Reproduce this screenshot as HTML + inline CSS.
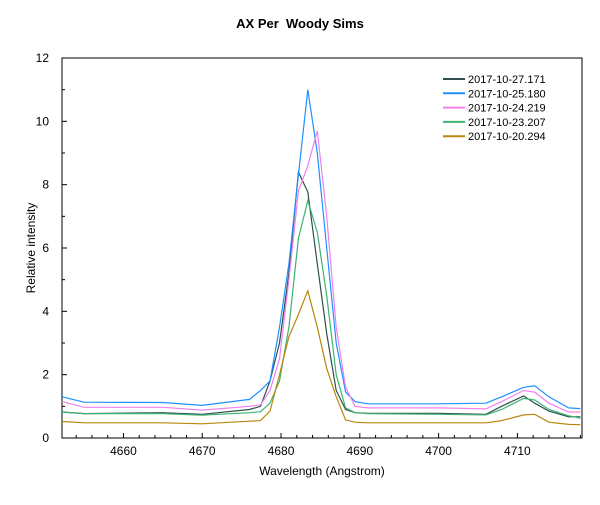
<!DOCTYPE html>
<html><head><meta charset="utf-8"><style>
body{margin:0;background:#fff;font-family:"Liberation Sans",sans-serif}
svg text{font-family:"Liberation Sans",sans-serif}
</style></head><body>
<svg id="chart" width="600" height="500">
<rect width="600" height="500" fill="#fff"/>
<text x="300" y="28" text-anchor="middle" font-size="13" font-weight="bold" xml:space="preserve" style="white-space:pre">AX Per  Woody Sims</text>
<rect x="62" y="58" width="520" height="380" fill="none" stroke="#000"/>
<g id="axes"></g>
<g id="series"></g>
<g id="legend"></g>
<text x="322" y="475" text-anchor="middle" font-size="12">Wavelength (Angstrom)</text>
<text transform="translate(35,248) rotate(-90)" text-anchor="middle" font-size="12">Relative intensity</text>
</svg>
<script>
const wavelengths=[4652.2,4655,4665,4670,4676,4677.4,4678.6,4679.8,4681.0,4682.2,4683.4,4684.6,4685.8,4687.0,4688.2,4689.4,4691,4700,4706,4708,4710.8,4712.2,4714,4716.5,4718];
const seriesNames=["2017-10-27.171","2017-10-25.180","2017-10-24.219","2017-10-23.207","2017-10-20.294"];
const s1=[0.82,0.77,0.8,0.75,0.9,1.0,1.8,3.0,5.2,8.4,7.77,5.5,3.3,1.5,0.9,0.8,0.78,0.78,0.75,1.0,1.33,1.1,0.85,0.67,0.67];
const s2=[1.3,1.13,1.12,1.03,1.22,1.5,1.8,3.5,5.5,8.3,11.0,9.0,6.0,3.0,1.45,1.15,1.08,1.08,1.1,1.3,1.6,1.65,1.3,0.95,0.93];
const s3=[1.15,0.97,0.97,0.88,1.0,1.05,1.5,2.5,5.0,7.8,8.6,9.7,7.0,3.5,1.6,1.0,0.95,0.95,0.92,1.15,1.5,1.45,1.1,0.82,0.82];
const s4=[0.82,0.77,0.77,0.72,0.8,0.83,1.1,1.8,3.5,6.3,7.5,6.5,4.5,2.0,0.95,0.8,0.77,0.75,0.73,0.9,1.25,1.2,0.9,0.7,0.63];
const s5=[0.52,0.48,0.48,0.45,0.53,0.55,0.85,2.0,3.2,3.9,4.65,3.5,2.2,1.3,0.57,0.5,0.48,0.48,0.48,0.55,0.73,0.75,0.5,0.43,0.42];
const xTicks=[4660,4670,4680,4690,4700,4710];
const yTicks=[0,2,4,6,8,10,12];
const colors=["#2f4f4f","#1e90ff","#ee82ee","#3cb371","#b8860b"];
const X0=4652.2,X1=4718.2,Y0=0,Y1=12;
const L=62,R=582,T=58,B=438;
const xs=v=>L+(v-X0)/(X1-X0)*(R-L);
const ys=v=>B-(v-Y0)/(Y1-Y0)*(B-T);
const NS="http://www.w3.org/2000/svg";
function mk(t,a,p){const e=document.createElementNS(NS,t);for(const k in a)e.setAttribute(k,a[k]);p.appendChild(e);return e;}
const ax=document.getElementById('axes');
for(let v=4654;v<=4718;v+=2){const x=xs(v);const major=v%10===0;
const t=mk('line',{x1:x,x2:x,y1:B,y2:B-(major?5:3),stroke:'#000'},ax);

}
xTicks.forEach(v=>{const t=mk('text',{x:xs(v),y:B+17,'text-anchor':'middle','font-size':12},ax);t.textContent=v;

});
for(let v=1;v<12;v+=1){const y=ys(v);const major=v%2===0;
const t=mk('line',{x1:L,x2:L+(major?5:3),y1:y,y2:y,stroke:'#000'},ax);

}
yTicks.forEach(v=>{const t=mk('text',{x:L-13,y:ys(v)+4,'text-anchor':'end','font-size':12},ax);t.textContent=v;

});
const sg=document.getElementById('series');
[s1,s2,s3,s4,s5].forEach((s,i)=>{
const p=mk('polyline',{points:s.map((v,j)=>xs(wavelengths[j]).toFixed(1)+','+ys(v).toFixed(1)).join(' '),fill:'none',stroke:colors[i],'stroke-width':1.2},sg);

});
const lg=document.getElementById('legend');
seriesNames.forEach((n,i)=>{const y=79+i*14.3;
const g=mk('g',{},lg);


mk('line',{x1:443,x2:465,y1:y,y2:y,stroke:colors[i],'stroke-width':2},g);
const t=mk('text',{x:468,y:y+4,'font-size':11},g);t.textContent=n;});
</script>
</body></html>
